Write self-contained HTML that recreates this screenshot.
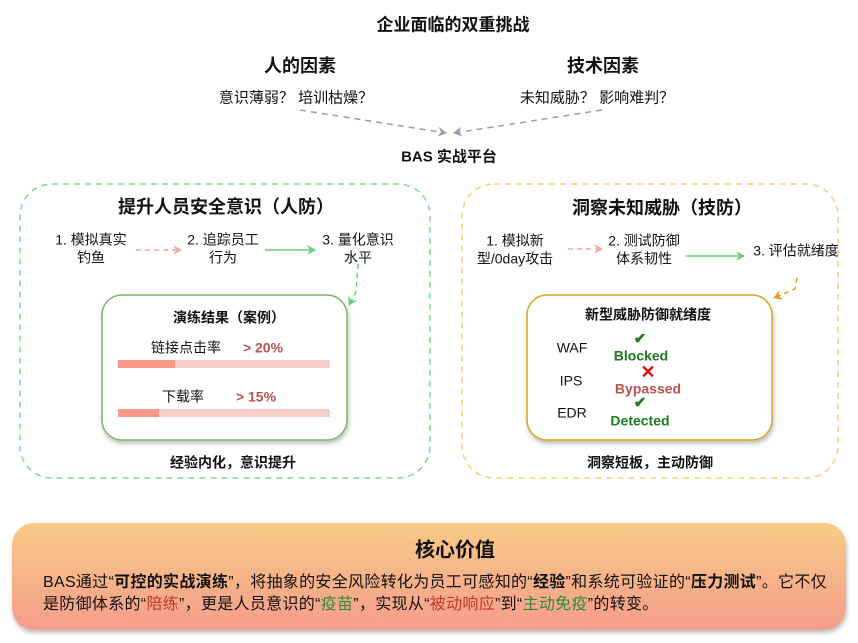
<!DOCTYPE html>
<html><head><meta charset="utf-8"><style>
body{margin:0;width:858px;height:643px;background:#fff;position:relative;overflow:hidden;font-family:"Liberation Sans","Noto Sans CJK SC",sans-serif;color:#111}
.t{position:absolute;white-space:nowrap;transform:translate(-50%,-50%);text-align:center;line-height:1.25}
.b{font-weight:bold}
.l{position:absolute;white-space:nowrap;transform:translateY(-50%)}
.bar{position:absolute;height:8px;background:#f8cecc}
.bar i{position:absolute;left:0;top:0;bottom:0;background:#f8978a}
</style></head><body>
<svg width="858" height="643" style="position:absolute;left:0;top:0">
<defs>
<marker id="ag" markerWidth="10" markerHeight="10" refX="8" refY="5" orient="auto" markerUnits="userSpaceOnUse"><path d="M0,0 L9,5 L0,10 L3,5z" fill="#9b98b5"/></marker>
<marker id="ar" markerWidth="10" markerHeight="10" refX="8" refY="5" orient="auto" markerUnits="userSpaceOnUse"><path d="M0,0 L9,5 L0,10 L3,5z" fill="#f4a8a0"/></marker>
<marker id="agr" markerWidth="10" markerHeight="10" refX="8" refY="5" orient="auto" markerUnits="userSpaceOnUse"><path d="M0,0 L9,5 L0,10 L3,5z" fill="#67d07e"/></marker>
<marker id="ao" markerWidth="10" markerHeight="10" refX="8" refY="5" orient="auto" markerUnits="userSpaceOnUse"><path d="M0,0 L9,5 L0,10 L3,5z" fill="#e0a020"/></marker>
<linearGradient id="gr" x1="0" y1="0" x2="0" y2="1"><stop offset="0" stop-color="#f8cb86"/><stop offset="1" stop-color="#f59d8b"/></linearGradient>
<filter id="sh" x="-10%" y="-10%" width="120%" height="130%"><feDropShadow dx="1" dy="3" stdDeviation="2" flood-opacity="0.25"/></filter>
</defs>
<path d="M300,110 L446,133" stroke="#9b98b5" stroke-width="1.5" stroke-dasharray="6,5" fill="none" marker-end="url(#ag)"/>
<path d="M602,110 L454,133" stroke="#9b98b5" stroke-width="1.5" stroke-dasharray="6,5" fill="none" marker-end="url(#ag)"/>
<rect x="20" y="184" width="410" height="294" rx="32" fill="none" stroke="#7fdc8f" stroke-width="1.5" stroke-dasharray="6,5"/>
<rect x="462" y="184" width="376" height="294" rx="32" fill="none" stroke="#f8cf7a" stroke-width="1.5" stroke-dasharray="6,5"/>
<path d="M136,250 L181,250" stroke="#f4a8a0" stroke-width="1.5" stroke-dasharray="5,4" marker-end="url(#ar)"/>
<path d="M265,250 L315,250" stroke="#67d07e" stroke-width="1.5" marker-end="url(#agr)"/>
<path d="M358,264 L356,292 L349,305" stroke="#67d07e" stroke-width="1.5" stroke-dasharray="5,4" fill="none" marker-end="url(#agr)"/>
<path d="M568,249 L602,249" stroke="#f4a8a0" stroke-width="1.5" stroke-dasharray="5,4" marker-end="url(#ar)"/>
<path d="M686,256 L744,256" stroke="#67d07e" stroke-width="1.5" marker-end="url(#agr)"/>
<path d="M797,278 L795,289 L774,298" stroke="#e0a020" stroke-width="1.5" stroke-dasharray="5,4" fill="none" marker-end="url(#ao)"/>
<rect x="102" y="295" width="245" height="145" rx="20" fill="#fff" stroke="#82b366" stroke-width="1.5" filter="url(#sh)"/>
<rect x="527" y="295" width="245" height="145" rx="20" fill="#fff" stroke="#d9a520" stroke-width="1.5" filter="url(#sh)"/>
<rect x="12" y="523" width="834" height="107" rx="22" fill="url(#gr)" filter="url(#sh)"/>
</svg>

<div class="t b" style="left:453px;top:25px;font-size:17px">企业面临的双重挑战</div>
<div class="t b" style="left:300px;top:66px;font-size:18px">人的因素</div>
<div class="t b" style="left:603px;top:66px;font-size:18px">技术因素</div>
<div class="t" style="left:296px;top:99px;font-size:15px">意识薄弱？&nbsp;培训枯燥？</div>
<div class="t" style="left:597px;top:99px;font-size:15px">未知威胁？&nbsp;影响难判？</div>
<div class="t b" style="left:449px;top:158px;font-size:15px">BAS 实战平台</div>

<div class="t b" style="left:226px;top:207px;font-size:18px">提升人员安全意识（人防）</div>
<div class="t" style="left:91px;top:249px;font-size:14px">1. 模拟真实<br>钓鱼</div>
<div class="t" style="left:223px;top:249px;font-size:14px">2. 追踪员工<br>行为</div>
<div class="t" style="left:358px;top:249px;font-size:14px">3. 量化意识<br>水平</div>
<div class="t b" style="left:229px;top:318px;font-size:14px">演练结果（案例）</div>
<div class="t" style="left:186px;top:348px;font-size:14px">链接点击率</div>
<div class="t b" style="left:263px;top:348px;font-size:14px;color:#b85450">&gt; 20%</div>
<div class="bar" style="left:118px;top:360px;width:212px"><i style="width:57px"></i></div>
<div class="t" style="left:183px;top:397px;font-size:14px">下载率</div>
<div class="t b" style="left:256px;top:397px;font-size:14px;color:#b85450">&gt; 15%</div>
<div class="bar" style="left:118px;top:409px;width:212px"><i style="width:41px"></i></div>
<div class="t b" style="left:233px;top:463px;font-size:14px">经验内化，意识提升</div>

<div class="t b" style="left:662px;top:208px;font-size:18px">洞察未知威胁（技防）</div>
<div class="t" style="left:515px;top:250px;font-size:14px">1. 模拟新<br>型/0day攻击</div>
<div class="t" style="left:644px;top:250px;font-size:14px">2. 测试防御<br>体系韧性</div>
<div class="t" style="left:796px;top:251px;font-size:14px">3. 评估就绪度</div>
<div class="t b" style="left:648px;top:315px;font-size:14px">新型威胁防御就绪度</div>
<div class="t" style="left:572px;top:348px;font-size:14px">WAF</div>
<div class="t" style="left:571px;top:381px;font-size:14px">IPS</div>
<div class="t" style="left:572px;top:413px;font-size:14px">EDR</div>
<div class="t b" style="left:640px;top:340px;font-size:15px;color:#1e7a1e">✔</div>
<div class="t b" style="left:641px;top:356px;font-size:14px;color:#1e7a1e">Blocked</div>
<div class="t b" style="left:648px;top:372px;font-size:18px;color:#e01010">✕</div>
<div class="t b" style="left:648px;top:389px;font-size:14px;color:#b85450">Bypassed</div>
<div class="t b" style="left:640px;top:404px;font-size:15px;color:#1e7a1e">✔</div>
<div class="t b" style="left:640px;top:421px;font-size:14px;color:#1e7a1e">Detected</div>
<div class="t b" style="left:650px;top:463px;font-size:14px">洞察短板，主动防御</div>

<div class="t b" style="left:455px;top:551px;font-size:20px">核心价值</div>
<div class="l" style="left:43px;top:580px;font-size:16px;letter-spacing:0.3px">BAS通过“<b>可控的实战演练</b>”，将抽象的安全风险转化为员工可感知的“<b>经验</b>”和系统可验证的“<b>压力测试</b>”。它不仅</div>
<div class="l" style="left:43px;top:602px;font-size:16px;letter-spacing:0.3px">是防御体系的“<span style="color:#c0392b">陪练</span>”，更是人员意识的“<span style="color:#2e8b3e">疫苗</span>”，实现从“<span style="color:#c0392b">被动响应</span>”到“<span style="color:#2e8b3e">主动免疫</span>”的转变。</div>
</body></html>
